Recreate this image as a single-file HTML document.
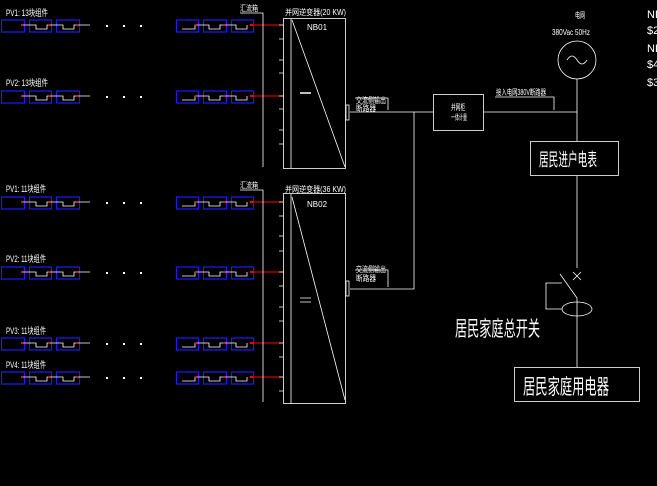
<!DOCTYPE html>
<html><head><meta charset="utf-8"><style>
html,body{margin:0;padding:0;background:#000;width:657px;height:486px;overflow:hidden}
text{font-family:"Liberation Sans","Noto Sans CJK SC",sans-serif;fill:#fff}
</style></head><body>
<svg width="657" height="486" viewBox="0 0 657 486" xmlns="http://www.w3.org/2000/svg">
<defs>
<g id="row">
  <rect x="1.5" y="-5" width="23" height="12" fill="none" stroke="#1a1aff" stroke-width="1.2"/>
  <rect x="29.5" y="-5" width="22" height="12" fill="none" stroke="#1a1aff" stroke-width="1.2"/>
  <rect x="56.5" y="-5" width="23" height="12" fill="none" stroke="#1a1aff" stroke-width="1.2"/>
  <path d="M22 0H36V4H47V0H63V4H74V0H90" stroke="#fff" fill="none" stroke-width="0.8"/>
  <rect x="21" y="-1" width="2" height="2" fill="red"/><rect x="48" y="-1" width="2" height="2" fill="red"/><rect x="76" y="-1" width="2" height="2" fill="red"/>
  <rect x="106" y="0" width="2" height="2" fill="#fff"/><rect x="123" y="0" width="2" height="2" fill="#fff"/><rect x="140" y="0" width="2" height="2" fill="#fff"/>
  <rect x="176.5" y="-5" width="22" height="12" fill="none" stroke="#1a1aff" stroke-width="1.2"/>
  <rect x="203.5" y="-5" width="23" height="12" fill="none" stroke="#1a1aff" stroke-width="1.2"/>
  <rect x="231.5" y="-5" width="22" height="12" fill="none" stroke="#1a1aff" stroke-width="1.2"/>
  <path d="M182 4H195V0H209V4H220V0H236V4H247V0" stroke="#fff" fill="none" stroke-width="0.8"/>
  <rect x="195" y="-1" width="2" height="2" fill="red"/><rect x="223" y="-1" width="2" height="2" fill="red"/><rect x="250" y="-1" width="3" height="2" fill="red"/>
  <line x1="253" y1="0" x2="283" y2="0" stroke="red" stroke-width="1"/>
</g>
</defs>
<g font-size="9">
<text x="6" y="16" textLength="42" lengthAdjust="spacingAndGlyphs">PV1: 13块组件</text>
<text x="6" y="86" textLength="42" lengthAdjust="spacingAndGlyphs">PV2: 13块组件</text>
<text x="6" y="192" textLength="40" lengthAdjust="spacingAndGlyphs">PV1: 11块组件</text>
<text x="6" y="262" textLength="40" lengthAdjust="spacingAndGlyphs">PV2: 11块组件</text>
<text x="6" y="334" textLength="40" lengthAdjust="spacingAndGlyphs">PV3: 11块组件</text>
<text x="6" y="368" textLength="40" lengthAdjust="spacingAndGlyphs">PV4: 11块组件</text>
</g>
<use href="#row" y="25"/><use href="#row" y="96"/>
<use href="#row" y="202"/><use href="#row" y="272"/>
<use href="#row" y="343"/><use href="#row" y="377"/>
<g stroke="#fff" fill="none" stroke-width="0.8">
<path d="M240 13H263V167"/><path d="M240 190H263V402"/>
<rect x="283.5" y="18.5" width="62" height="150"/><line x1="291" y1="19" x2="291" y2="168"/><line x1="292" y1="20" x2="345" y2="167"/>
<rect x="283.5" y="193.5" width="62" height="210"/><line x1="291" y1="194" x2="291" y2="404"/><line x1="292" y1="197" x2="345" y2="400"/>
<path d="M279 25h4M279 39h4M279 60h4M279 73h4M279 96h4M279 109h4M279 130h4M279 144h4"/>
<path d="M279 202h4M279 216h4M279 236h4M279 251h4M279 272h4M279 286h4M279 307h4M279 321h4M279 343h4M279 357h4M279 377h4M279 391h4"/>
<rect x="346" y="105" width="3" height="15"/><rect x="346" y="281" width="3" height="15"/>
<path d="M350 112H433M414 112V289H350"/>
<path d="M355 98H388V110M355 270H388V287"/>
<rect x="433.5" y="94.5" width="50" height="36"/>
<path d="M484 112H577M495 97H554V110"/>
<circle cx="577" cy="60" r="19"/>
<path d="M567 60q5-8 10 0t10 0"/>
<path d="M577 79V141"/>
<rect x="530.5" y="141.5" width="88" height="34"/>
<path d="M577 176V268M573 272l8 8M581 272l-8 8"/>
<path d="M560 274L577 298V367"/>
<ellipse cx="577" cy="309" rx="15" ry="7"/>
<path d="M562 283H546V309H562"/>
<rect x="514.5" y="367.5" width="125" height="34"/>
</g>
<line x1="300" y1="93" x2="311" y2="93" stroke="#fff" stroke-width="1.5"/>
<path d="M300 298h11M300 302h11" stroke="#fff" stroke-width="0.8"/>
<g font-size="8">
<text x="240" y="11" textLength="18" lengthAdjust="spacingAndGlyphs">汇流箱</text><text x="240" y="188" textLength="18" lengthAdjust="spacingAndGlyphs">汇流箱</text>
<text x="285" y="15" textLength="61" lengthAdjust="spacingAndGlyphs">并网逆变器(20 KW)</text><text x="285" y="192" textLength="61" lengthAdjust="spacingAndGlyphs">并网逆变器(36 KW)</text>
<text x="307" y="30">NB01</text><text x="307" y="207">NB02</text>
<text x="356" y="103" textLength="30" lengthAdjust="spacingAndGlyphs">交流侧输出</text><text x="356" y="111" textLength="20" lengthAdjust="spacingAndGlyphs">断路器</text>
<text x="356" y="272" textLength="30" lengthAdjust="spacingAndGlyphs">交流侧输出</text><text x="356" y="281" textLength="20" lengthAdjust="spacingAndGlyphs">断路器</text>
<text x="451" y="110" textLength="14" lengthAdjust="spacingAndGlyphs">并网柜</text><text x="451" y="120" textLength="16" lengthAdjust="spacingAndGlyphs">一体计量</text>
<text x="496" y="95" textLength="50" lengthAdjust="spacingAndGlyphs">接入电网380V断路器</text>
<text x="575" y="18" textLength="10" lengthAdjust="spacingAndGlyphs">电网</text>
<text x="552" y="35" textLength="38" lengthAdjust="spacingAndGlyphs">380Vac 50Hz</text>
</g>
<text x="539" y="166" font-size="18" textLength="58" lengthAdjust="spacingAndGlyphs">居民进户电表</text>
<text x="455" y="336" font-size="21" textLength="85" lengthAdjust="spacingAndGlyphs">居民家庭总开关</text>
<text x="523" y="394" font-size="21" textLength="86" lengthAdjust="spacingAndGlyphs">居民家庭用电器</text>
<g font-size="11"><text x="647" y="18">NE</text><text x="647" y="34">$2</text><text x="647" y="52">NE</text><text x="647" y="68">$4</text><text x="647" y="86">$3</text></g>
</svg>
</body></html>
